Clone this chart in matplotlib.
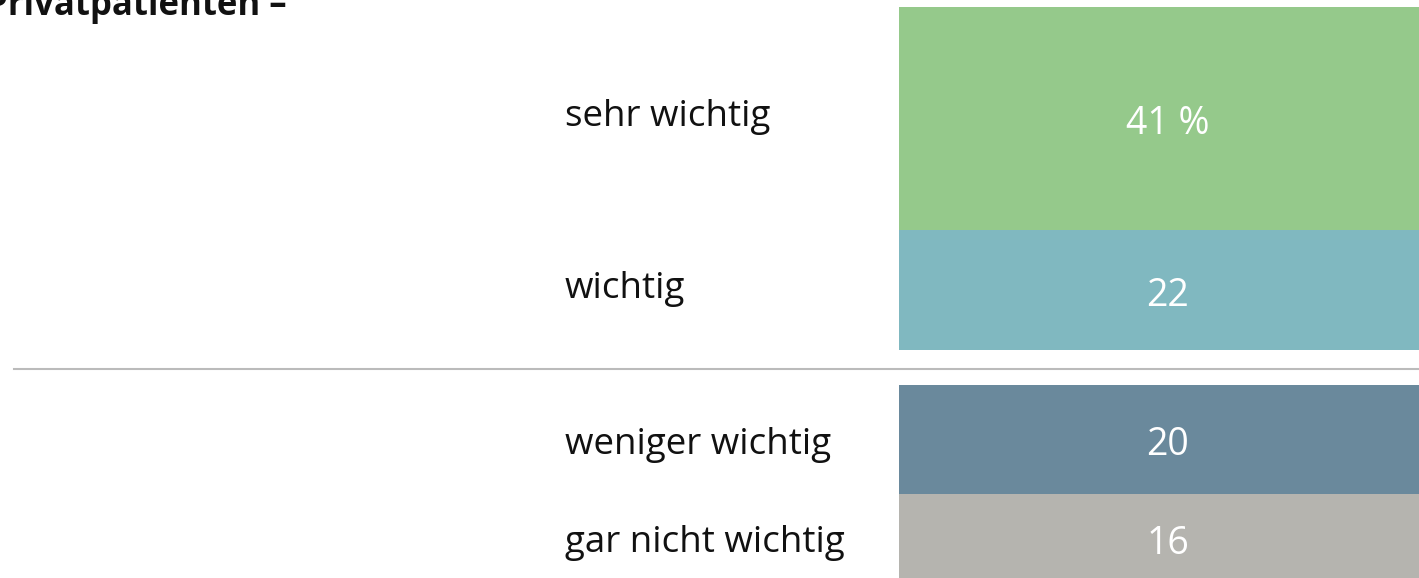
import matplotlib.pyplot as plt

# Werte (in %)
pos_labels = ['wichtig', 'sehr wichtig']
pos_values = [22, 41]
pos_texts = ['22', '41 %']
neg_labels = ['weniger wichtig', 'gar nicht wichtig']
neg_values = [20, 16]
neg_texts = ['20', '16']

pos_colors = ['#80b8c0', '#95c98b']
neg_colors = ['#6a899c', '#b5b4af']

plt.rcParams['font.family'] = ['Open Sans', 'DejaVu Sans']

fig = plt.figure(figsize=(14.19, 5.78), dpi=100)
ax = fig.add_axes([0, 0, 1, 1])
ax.set_xlim(0, 1)
ax.set_ylim(-38.3, 67.6)
ax.axis('off')

bar_x = 0.823
bar_w = 0.379
label_x = 0.398

# positive Seite nach oben stapeln
bottom = 3.4
for lab, v, t, c in zip(pos_labels, pos_values, pos_texts, pos_colors):
    ax.bar(bar_x, v, width=bar_w, bottom=bottom, color=c, linewidth=0)
    mid = bottom + v / 2
    ax.text(bar_x, mid - 1.0, t, ha='center', va='center', color='white', fontsize=27)
    ax.text(label_x, mid + 0.2, lab, ha='left', va='center', color='#111111', fontsize=26.5)
    bottom += v

# negative Seite nach unten stapeln
top = -2.9
for lab, v, t, c in zip(neg_labels, neg_values, neg_texts, neg_colors):
    ax.bar(bar_x, -v, width=bar_w, bottom=top, color=c, linewidth=0)
    mid = top - v / 2
    ax.text(bar_x, mid - 1.1, t, ha='center', va='center', color='white', fontsize=27)
    ax.text(label_x, mid - 1.0, lab, ha='left', va='center', color='#111111', fontsize=26.5)
    top -= v

# Trennlinie
ax.plot([0.0099, 1], [0, 0], color='#bbbbbb', linewidth=1.5)

# Titel oben links, im Original oben angeschnitten
fig.text(0.2023, 1 - 15 / 578, 'Privatpatienten –', ha='right', va='baseline',
         fontsize=25, fontweight='bold', color='#111111')

fig.savefig('out.png', dpi=100)
